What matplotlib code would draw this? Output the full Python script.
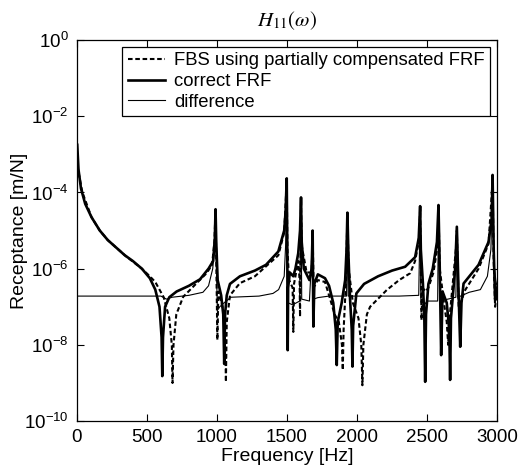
import numpy as np
import matplotlib
matplotlib.use('Agg')
import matplotlib.pyplot as plt
from matplotlib.ticker import FixedLocator, LogFormatterMathtext, NullLocator

plt.rcParams['font.family'] = ['Liberation Sans', 'DejaVu Sans']
plt.rcParams['mathtext.fontset'] = 'custom'
plt.rcParams['mathtext.rm'] = 'Liberation Sans'
plt.rcParams['mathtext.it'] = 'Liberation Sans:italic'

# values: frequency [Hz] and log10 of receptance [m/N]
freq_frf = [3, 12, 30, 60, 105, 164, 221, 343, 400, 464, 521, 560, 590, 605, 610, 615, 630,
            660, 712, 800, 879, 940, 973, 985, 990, 995, 1005, 1030, 1045, 1052, 1058, 1070,
            1093, 1164, 1271, 1350, 1438, 1480, 1490, 1498, 1502, 1505, 1508, 1520, 1545,
            1560, 1580, 1593, 1600, 1605, 1620, 1660, 1676, 1683, 1688, 1695, 1720, 1771,
            1800, 1830, 1848, 1855, 1862, 1890, 1915, 1925, 1931, 1938, 1950, 1962, 1967,
            1972, 1995, 2050, 2150, 2250, 2343, 2414, 2440, 2450, 2455, 2470, 2480, 2486,
            2492, 2509, 2540, 2570, 2581, 2590, 2600, 2610, 2640, 2658, 2664, 2670, 2700,
            2712, 2725, 2736, 2745, 2760, 2867, 2938, 2960, 2967, 2975, 2985, 3000]
log_frf = [-2.75, -3.4, -3.9, -4.3, -4.65, -5.0, -5.25, -5.65, -5.8, -6.0, -6.25, -6.55, -7.0,
           -7.8, -8.82, -7.8, -7.0, -6.75, -6.6, -6.45, -6.28, -6.0, -5.8, -5.2, -4.44, -5.3,
           -6.3, -6.7, -7.2, -8.5, -7.2, -6.7, -6.4, -6.2, -6.05, -5.9, -5.55, -5.0, -4.5,
           -3.63, -5.5, -8.14, -6.5, -6.1, -6.2, -6.0, -5.6, -5.0, -4.13, -5.3, -6.0, -6.3,
           -6.0, -5.0, -7.52, -6.4, -6.15, -6.25, -6.45, -6.9, -7.6, -8.53, -7.4, -6.9, -6.3,
           -5.5, -4.53, -5.6, -6.8, -7.6, -8.57, -7.5, -6.65, -6.4, -6.2, -6.05, -5.95, -5.7,
           -5.2, -4.36, -5.5, -6.4, -7.3, -8.97, -7.2, -6.4, -6.0, -5.3, -4.33, -6.0, -8.27,
           -6.6, -6.9, -7.6, -8.92, -7.3, -6.0, -4.9, -6.7, -8.05, -6.9, -6.39, -5.9, -5.3,
           -4.7, -3.54, -5.5, -6.8, -6.5]

freq_fbs = [5, 14, 40, 105, 164, 221, 343, 464, 521, 560, 620, 660, 678, 683, 690, 710, 759,
            850, 926, 965, 982, 990, 996, 1003, 1010, 1040, 1058, 1064, 1070, 1093, 1164,
            1271, 1438, 1480, 1498, 1503, 1515, 1540, 1545, 1550, 1580, 1590, 1593, 1597,
            1600, 1605, 1640, 1676, 1683, 1690, 1720, 1771, 1800, 1840, 1870, 1892, 1898,
            1904, 1920, 1931, 1940, 1970, 2010, 2030, 2038, 2045, 2070, 2093, 2212, 2300,
            2379, 2414, 2440, 2450, 2455, 2460, 2466, 2490, 2509, 2545, 2575, 2581, 2590,
            2620, 2640, 2650, 2655, 2680, 2705, 2712, 2725, 2750, 2765, 2867, 2938, 2967,
            2975, 2985, 3000]
log_fbs = [-3.3, -3.5, -4.0, -4.65, -5.0, -5.25, -5.65, -6.0, -6.2, -6.35, -6.75, -7.3, -8.0,
           -9.0, -8.0, -7.2, -6.74, -6.4, -6.12, -5.9, -5.3, -4.44, -6.0, -7.87, -6.6, -7.0,
           -7.6, -8.97, -7.4, -6.7, -6.38, -6.2, -5.65, -5.05, -3.7, -5.5, -6.3, -6.5, -7.66,
           -6.4, -5.8, -6.3, -7.26, -5.5, -4.2, -5.4, -6.1, -6.1, -5.1, -6.5, -6.3, -6.35,
           -6.7, -7.2, -7.4, -8.0, -8.66, -7.6, -6.4, -4.6, -6.0, -6.9, -7.3, -8.0, -9.06,
           -8.0, -7.2, -7.0, -6.56, -6.3, -6.12, -5.8, -5.3, -4.45, -6.0, -7.35, -6.5, -6.6,
           -6.5, -6.1, -5.4, -4.4, -6.0, -6.9, -7.4, -8.0, -7.5, -6.5, -5.5, -5.0, -7.0,
           -6.8, -6.6, -6.0, -5.35, -3.7, -5.8, -7.0, -6.6]

freq_diff = [0, 500, 600, 640, 680, 800, 900, 940, 970, 985, 990, 995, 1003, 1020, 1050, 1100,
             1300, 1400, 1440, 1480, 1490, 1498, 1503, 1510, 1540, 1590, 1600, 1605, 1660,
             1683, 1690, 1720, 1800, 1925, 1931, 1937, 2300, 2440, 2450, 2455, 2470, 2500,
             2575, 2581, 2590, 2705, 2712, 2720, 2800, 2880, 2930, 2955, 2967, 2975, 2990,
             3000]
log_diff = [-6.72, -6.72, -6.72, -6.8, -6.75, -6.7, -6.62, -6.45, -6.0, -5.3, -4.6, -5.8,
            -7.1, -7.0, -6.9, -6.75, -6.72, -6.65, -6.55, -6.2, -5.4, -3.8, -6.0, -6.9, -6.95,
            -6.85, -4.3, -6.8, -6.85, -5.2, -6.8, -6.76, -6.72, -6.72, -4.8, -6.72, -6.72,
            -6.7, -4.5, -6.85, -7.0, -6.85, -6.85, -4.5, -6.85, -6.75, -5.1, -6.75, -6.62,
            -6.55, -6.2, -5.5, -3.8, -5.8, -6.3, -6.5]

legend_labels = ['FBS using partially compensated FRF', 'correct FRF', 'difference']
xticks = [0, 500, 1000, 1500, 2000, 2500, 3000]
yticks = [1e-10, 1e-8, 1e-6, 1e-4, 1e-2, 1e0]

fig = plt.figure(figsize=(5.19, 4.71), dpi=100)
ax = fig.add_axes([0.148, 0.106, 0.81, 0.809])

ax.semilogy(freq_fbs, 10 ** np.array(log_fbs), color='black', lw=1.5,
            dashes=(2.2, 1.3), label=legend_labels[0])
ax.semilogy(freq_frf, 10 ** np.array(log_frf), color='black', lw=1.9, label=legend_labels[1])
ax.semilogy(freq_diff, 10 ** np.array(log_diff), color='black', lw=0.8, label=legend_labels[2])

ax.set_xlim(0, 3000)
ax.set_ylim(1e-10, 1)
ax.set_xticks(xticks)
ax.yaxis.set_major_locator(FixedLocator(yticks))
ax.yaxis.set_major_formatter(LogFormatterMathtext())
ax.yaxis.set_minor_locator(NullLocator())
ax.tick_params(direction='in', top=True, right=True, length=5, width=0.8,
               labelsize=13.5, pad=6)

ax.set_xlabel('Frequency [Hz]', fontsize=14, labelpad=1)
ax.set_ylabel('Receptance [m/N]', fontsize=14, labelpad=-3)
ax.set_title(r'$H_{11}(\omega)$', fontsize=15, math_fontfamily='stix', pad=10)

for s in ax.spines.values():
    s.set_linewidth(0.9)

leg = ax.legend(loc='upper right', bbox_to_anchor=(0.983, 0.982), fontsize=13.3,
                frameon=True, fancybox=False, framealpha=1, edgecolor='black',
                handlelength=2.0, handletextpad=0.5, labelspacing=0.2, borderpad=0.3,
                borderaxespad=0)
leg.get_frame().set_linewidth(0.9)

plt.savefig('out.png', dpi=100)
